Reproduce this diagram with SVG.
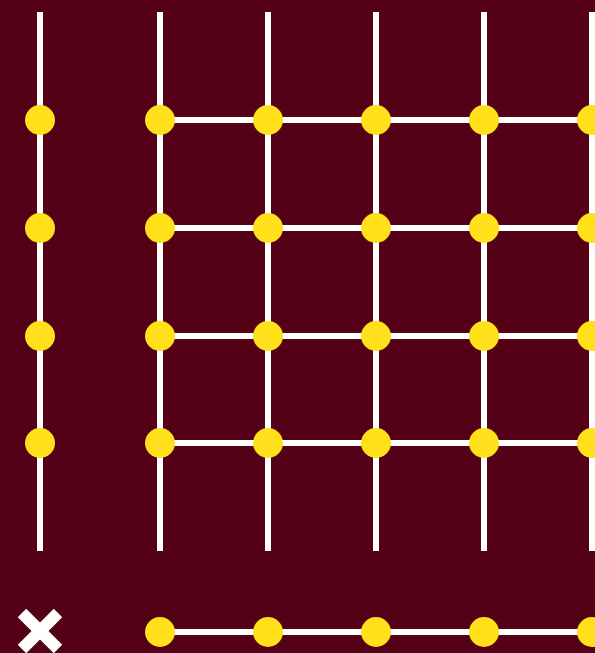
<svg xmlns="http://www.w3.org/2000/svg" width="595" height="653" viewBox="0 0 595 653">
<style>
.ln{stroke:#ffffff;stroke-width:6;fill:none}
.nd{fill:#ffe01b}
</style>
<defs><circle id="c" r="15" class="nd"/></defs>
<rect x="0" y="0" width="595" height="653" fill="#540017"/>
<g id="connectors">
<line class="ln" x1="40" y1="12" x2="40" y2="551"/>
<line class="ln" x1="160" y1="12" x2="160" y2="551"/>
<line class="ln" x1="268" y1="12" x2="268" y2="551"/>
<line class="ln" x1="376" y1="12" x2="376" y2="551"/>
<line class="ln" x1="484" y1="12" x2="484" y2="551"/>
<line class="ln" x1="592" y1="12" x2="592" y2="551"/>
<line class="ln" x1="160" y1="120" x2="600" y2="120"/>
<line class="ln" x1="160" y1="228" x2="600" y2="228"/>
<line class="ln" x1="160" y1="336" x2="600" y2="336"/>
<line class="ln" x1="160" y1="443" x2="600" y2="443"/>
<line class="ln" x1="160" y1="632" x2="600" y2="632"/>
</g>
<g id="n-left">
<use href="#c" x="40" y="120"/><use href="#c" x="40" y="228"/><use href="#c" x="40" y="336"/><use href="#c" x="40" y="443"/>
</g>
<g id="n-row1">
<use href="#c" x="160" y="120"/><use href="#c" x="268" y="120"/><use href="#c" x="376" y="120"/><use href="#c" x="484" y="120"/><use href="#c" x="592" y="120"/>
</g>
<g id="n-row2">
<use href="#c" x="160" y="228"/><use href="#c" x="268" y="228"/><use href="#c" x="376" y="228"/><use href="#c" x="484" y="228"/><use href="#c" x="592" y="228"/>
</g>
<g id="n-row3">
<use href="#c" x="160" y="336"/><use href="#c" x="268" y="336"/><use href="#c" x="376" y="336"/><use href="#c" x="484" y="336"/><use href="#c" x="592" y="336"/>
</g>
<g id="n-row4">
<use href="#c" x="160" y="443"/><use href="#c" x="268" y="443"/><use href="#c" x="376" y="443"/><use href="#c" x="484" y="443"/><use href="#c" x="592" y="443"/>
</g>
<g id="n-bottom">
<use href="#c" x="160" y="632"/><use href="#c" x="268" y="632"/><use href="#c" x="376" y="632"/><use href="#c" x="484" y="632"/><use href="#c" x="592" y="632"/>
</g>
<g id="cross">
<path d="M22,613 L58,649 M58,613 L22,649" stroke="#ffffff" stroke-width="12" fill="none"/>
</g>
</svg>
